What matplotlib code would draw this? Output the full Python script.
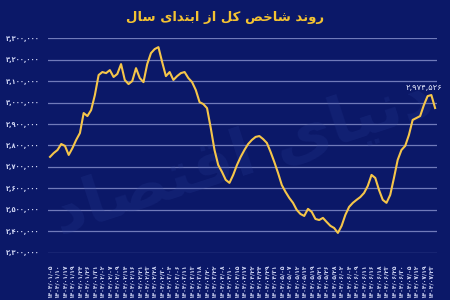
import matplotlib
matplotlib.use("Agg")
import matplotlib.pyplot as plt
import numpy as np

# --- data ---
title_text = "روند شاخص کل از ابتدای سال"
watermark_text = "دنیای اقتصاد"

dates = [
    "1404/01/05", "1404/01/10", "1404/01/17", "1404/01/19", "1404/01/24", "1404/01/26", "1404/01/31",
    "1404/02/02", "1404/02/07", "1404/02/09", "1404/02/14", "1404/02/16", "1404/02/21", "1404/02/23",
    "1404/02/28", "1404/02/30", "1404/03/04", "1404/03/06", "1404/03/11", "1404/03/13", "1404/03/18",
    "1404/03/20", "1404/03/22", "1404/04/08", "1404/04/10", "1404/04/15", "1404/04/17", "1404/04/22",
    "1404/04/24", "1404/04/29", "1404/04/31", "1404/05/05", "1404/05/07", "1404/05/12", "1404/05/14",
    "1404/05/19", "1404/05/21", "1404/05/26", "1404/05/28", "1404/06/02", "1404/06/04", "1404/06/09",
    "1404/06/11", "1404/06/16", "1404/06/18", "1404/06/23", "1404/06/25", "1404/06/30", "1404/07/05",
    "1404/07/12", "1404/07/19", "1404/07/23",
]

# index value (thousands), two trading days per date label
index_k = [
    2747, 2765, 2779, 2807, 2798, 2756, 2788, 2826, 2858, 2951,
    2937, 2965, 3035, 3128, 3142, 3137, 3151, 3119, 3133, 3179,
    3105, 3086, 3100, 3160, 3114, 3095, 3179, 3230, 3249, 3258,
    3188, 3123, 3142, 3105, 3123, 3137, 3142, 3114, 3095, 3058,
    3002, 2993, 2974, 2881, 2779, 2709, 2677, 2640, 2626, 2663,
    2709, 2747, 2779, 2807, 2826, 2840, 2844, 2830, 2812, 2770,
    2723, 2672, 2616, 2584, 2556, 2533, 2500, 2481, 2472, 2505,
    2491, 2458, 2453, 2463, 2444, 2426, 2416, 2393, 2426, 2477,
    2514, 2533, 2547, 2560, 2579, 2612, 2663, 2649, 2593, 2547,
    2533, 2570, 2649, 2733, 2779, 2798, 2849, 2919, 2928, 2937,
    2988, 3030, 3035, 2974.526,
]
last_value = 2974526

# --- minimal Persian shaping (presentation forms, right-to-left) ---
FORMS = {
    "ا": ("\uFE8D", "\uFE8E", None, None),
    "ب": ("\uFE8F", "\uFE90", "\uFE91", "\uFE92"),
    "ت": ("\uFE95", "\uFE96", "\uFE97", "\uFE98"),
    "خ": ("\uFEA5", "\uFEA6", "\uFEA7", "\uFEA8"),
    "د": ("\uFEA9", "\uFEAA", None, None),
    "ر": ("\uFEAD", "\uFEAE", None, None),
    "ز": ("\uFEAF", "\uFEB0", None, None),
    "س": ("\uFEB1", "\uFEB2", "\uFEB3", "\uFEB4"),
    "ش": ("\uFEB5", "\uFEB6", "\uFEB7", "\uFEB8"),
    "ص": ("\uFEB9", "\uFEBA", "\uFEBB", "\uFEBC"),
    "ق": ("\uFED5", "\uFED6", "\uFED7", "\uFED8"),
    "ل": ("\uFEDD", "\uFEDE", "\uFEDF", "\uFEE0"),
    "ن": ("\uFEE5", "\uFEE6", "\uFEE7", "\uFEE8"),
    "و": ("\uFEED", "\uFEEE", None, None),
    "ک": ("\uFB8E", "\uFB8F", "\uFB90", "\uFB91"),
    "ی": ("\uFBFC", "\uFBFD", "\uFBFE", "\uFBFF"),
}


def shape(text):
    out = []
    for i, ch in enumerate(text):
        if ch not in FORMS:
            out.append(ch)
            continue
        prev = text[i - 1] if i > 0 else ""
        nxt = text[i + 1] if i + 1 < len(text) else ""
        iso, fin, ini, med = FORMS[ch]
        j_prev = prev in FORMS and FORMS[prev][2] is not None
        j_next = nxt in FORMS and ini is not None
        if j_prev and j_next:
            out.append(med)
        elif j_prev:
            out.append(fin)
        elif j_next:
            out.append(ini)
        else:
            out.append(iso)
    return "".join(reversed(out))


FA_DIGITS = str.maketrans("0123456789", "۰۱۲۳۴۵۶۷۸۹")


def fa(s):
    return s.translate(FA_DIGITS)


bg = "#0b1868"
grid_c = "#8a93cf"
line_c = "#f6c64a"
text_c = "#cfd5f4"

fig = plt.figure(figsize=(4.5, 3), dpi=100, facecolor=bg)
ax = fig.add_axes([0.107, 0.157, 0.864, 0.716], facecolor=bg)

x = np.arange(len(index_k))
y = np.array(index_k) * 1000

ax.plot(x, y, color=line_c, lw=1.5, zorder=3, solid_joinstyle="round")

ax.set_ylim(2300000, 3300000)
ax.set_xlim(-0.5, len(index_k) - 0.5)
yt = np.arange(2300000, 3300001, 100000)
ax.set_yticks(yt)
ax.set_yticklabels([fa(f"{v:,}") for v in yt], fontsize=4.8, color=text_c, fontweight="bold")
ax.yaxis.grid(True, color=grid_c, lw=0.9, alpha=0.8)
ax.set_axisbelow(True)

ax.set_xticks(x[::2])
ax.set_xticklabels([fa(d) for d in dates], rotation=90, fontsize=4.3, color=text_c,
                   fontweight="bold")
ax.tick_params(length=0, pad=6)
ax.tick_params(axis="x", pad=8)
for s in ax.spines.values():
    s.set_visible(False)

# faint watermark
ax.text(0.5, 0.45, shape(watermark_text), transform=ax.transAxes, fontsize=46,
        color="#2a3f9a", alpha=0.22, rotation=18, ha="center", va="center",
        fontweight="bold", zorder=1)

ax.annotate(fa(f"{last_value:,}"), xy=(x[-1], y[-1]), xytext=(x[-1] - 3, 3050000),
            fontsize=6, color="#e6e9fb", ha="center", va="bottom")

fig.text(0.5, 0.94, shape(title_text), ha="center", va="center", fontsize=9.5,
         fontweight="bold", color="#f3c232")

fig.savefig("out.png", dpi=100, facecolor=bg)
